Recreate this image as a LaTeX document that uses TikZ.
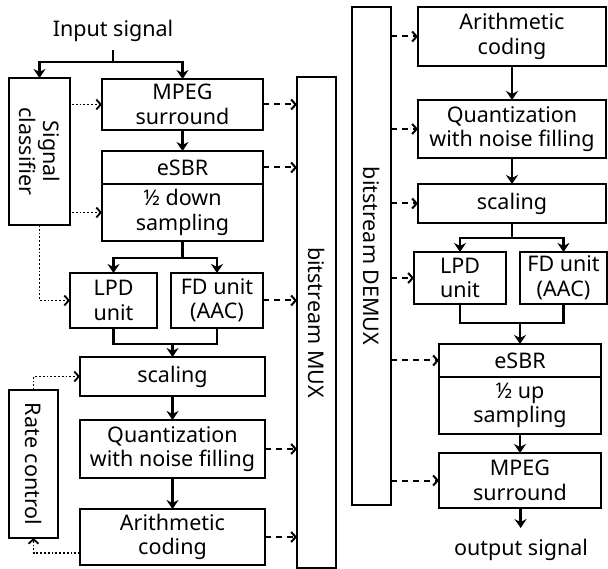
\documentclass[tikz,border=0pt]{standalone}
\usepackage{fontspec}
\setmainfont{Noto Sans}
\usetikzlibrary{positioning, arrows.meta}

\begin{document}
\begin{tikzpicture}[
    x=1pt, y=-1pt,
    block_box/.style={draw, line width=2.9pt, inner sep=0pt, outer sep=0pt, align=center, font=\fontsize{21.5}{24.5}\selectfont},
    rot_box/.style={block_box, rotate=-90},
    sig_text/.style={inner xsep=0pt, font=\fontsize{21.5}{24.5}\selectfont},
    plain_line/.style={line width=2.8pt},
    flow_arrow/.style={plain_line, -{Stealth[length=9pt, width=12pt, inset=3pt]}},
    data_arrow/.style={line width=2pt, dash pattern=on 6pt off 5pt, -{Straight Barb[length=4.5pt, width=10pt]}},
    ctrl_arrow/.style={line width=1.8pt, dotted, -{Straight Barb[length=4.5pt, width=10pt]}}
  ]
    \useasboundingbox (0,0) rectangle (608,569);

    % encoder
    \node[sig_text, inner ysep=8pt] (In) at (113,31) {Input signal};
    \node[rot_box, minimum width=147pt, minimum height=61pt] (Cls) at (39.5,151.5) {Signal\\classifier};
    \node[block_box, minimum width=161pt, minimum height=51pt] (MS1) at (182.5,104.5) {MPEG\\surround};
    \node[block_box, minimum width=161pt, minimum height=33pt, below=21pt of MS1] (SBR1) {eSBR};
    \node[block_box, minimum width=161pt, minimum height=57pt, below=0pt of SBR1] (DS1) {½ down\\sampling};
    \node[block_box, minimum width=87pt, minimum height=55pt] (LPD1) at (113.5,300.5) {LPD\\unit};
    \node[block_box, minimum width=92pt, minimum height=55pt] (FD1) at (217,300.5) {FD unit\\(AAC)};
    \node[block_box, minimum width=185pt, minimum height=39pt] (S1) at (172.5,376.5) {scaling};
    \node[block_box, minimum width=185pt, minimum height=58pt, below=24pt of S1] (Q1) {Quantization\\with noise filling};
    \node[block_box, minimum width=185pt, minimum height=56pt, below=31pt of Q1] (A1) {Arithmetic\\coding};
    \node[rot_box, minimum width=148pt, minimum height=49pt] (Rate) at (33.5,464) {Rate control};
    \node[rot_box, minimum width=491pt, minimum height=39pt] (MUX) at (316.5,322.5) {bitstream MUX};

    % decoder
    \node[rot_box, minimum width=498pt, minimum height=39pt] (DEMUX) at (371.5,256) {bitstream DEMUX};
    \node[block_box, minimum width=188pt, minimum height=59pt] (A2) at (512,36.5) {Arithmetic\\coding};
    \node[block_box, minimum width=188pt, minimum height=58pt, below=34pt of A2] (Q2) {Quantization\\with noise filling};
    \node[block_box, minimum width=188pt, minimum height=39pt, below=26pt of Q2] (S2) {scaling};
    \node[block_box, minimum width=92pt, minimum height=52pt] (LPD2) at (460,278) {LPD\\unit};
    \node[block_box, minimum width=87pt, minimum height=52pt] (FD2) at (563.5,278) {FD unit\\(AAC)};
    \node[block_box, minimum width=162pt, minimum height=33pt] (SBR2) at (520,360.5) {eSBR};
    \node[block_box, minimum width=162pt, minimum height=57pt, below=0pt of SBR2] (US2) {½ up\\sampling};
    \node[block_box, minimum width=162pt, minimum height=55pt, below=19pt of US2] (MS2) {MPEG\\surround};
    \node[sig_text, inner ysep=11pt] (Out) at (521,550) {output signal};

    \coordinate (InSplit) at (113,62);
    \coordinate (DSSplit) at (182.5,258);
    \coordinate (UnitJoin1) at (172.5,344);
    \coordinate (S2Split) at (512,238);
    \coordinate (UnitJoin2) at (520,323);

    % main path, encoder
    \draw[plain_line] (In.south) -- (InSplit);
    \draw[flow_arrow] (InSplit) -| (Cls.west);
    \draw[flow_arrow] (InSplit) -| (MS1.north);
    \draw[flow_arrow] (MS1) -- (SBR1);
    \draw[plain_line] (DS1.south) -- (DSSplit);
    \draw[flow_arrow] (DSSplit) -| (LPD1.north);
    \draw[flow_arrow] (DSSplit) -| (FD1.north);
    \draw[plain_line] (LPD1.south) |- (UnitJoin1) -| (FD1.south);
    \draw[flow_arrow] (UnitJoin1) -- (S1);
    \draw[flow_arrow] (S1) -- (Q1);
    \draw[flow_arrow] (Q1) -- (A1);

    % control
    \draw[ctrl_arrow] ([xshift=2pt]Cls.north |- MS1.west) -- (MS1.west);
    \draw[ctrl_arrow] ([xshift=2pt]Cls.north |- DS1.west) -- (DS1.west);
    \draw[ctrl_arrow] (Cls.east) |- (LPD1.west);
    \draw[ctrl_arrow] (Rate.west) |- (S1.west);
    \draw[ctrl_arrow] ([yshift=-16pt]A1.west) -| (Rate.east);

    % side info to MUX
    \draw[data_arrow] (MS1.east) -- (MS1.east -| MUX.south);
    \draw[data_arrow] (SBR1.east) -- (SBR1.east -| MUX.south);
    \draw[data_arrow] (FD1.east) -- (FD1.east -| MUX.south);
    \draw[data_arrow] (Q1.east) -- (Q1.east -| MUX.south);
    \draw[data_arrow] (A1.east) -- (A1.east -| MUX.south);

    % side info from DEMUX
    \draw[data_arrow] (DEMUX.north |- A2.west) -- (A2.west);
    \draw[data_arrow] (DEMUX.north |- Q2.west) -- (Q2.west);
    \draw[data_arrow] (DEMUX.north |- S2.west) -- (S2.west);
    \draw[data_arrow] (DEMUX.north |- LPD2.west) -- (LPD2.west);
    \draw[data_arrow] (DEMUX.north |- SBR2.west) -- (SBR2.west);
    \draw[data_arrow] (DEMUX.north |- MS2.west) -- (MS2.west);

    % main path, decoder
    \draw[flow_arrow] (A2) -- (Q2);
    \draw[flow_arrow] (Q2) -- (S2);
    \draw[plain_line] (S2.south) -- (S2Split);
    \draw[flow_arrow] (S2Split) -| (LPD2.north);
    \draw[flow_arrow] (S2Split) -| (FD2.north);
    \draw[plain_line] (LPD2.south) |- (UnitJoin2) -| (FD2.south);
    \draw[flow_arrow] (UnitJoin2) -- (SBR2);
    \draw[flow_arrow] (US2) -- (MS2);
    \draw[flow_arrow] (MS2) -- (Out);
  \end{tikzpicture}
\end{document}
